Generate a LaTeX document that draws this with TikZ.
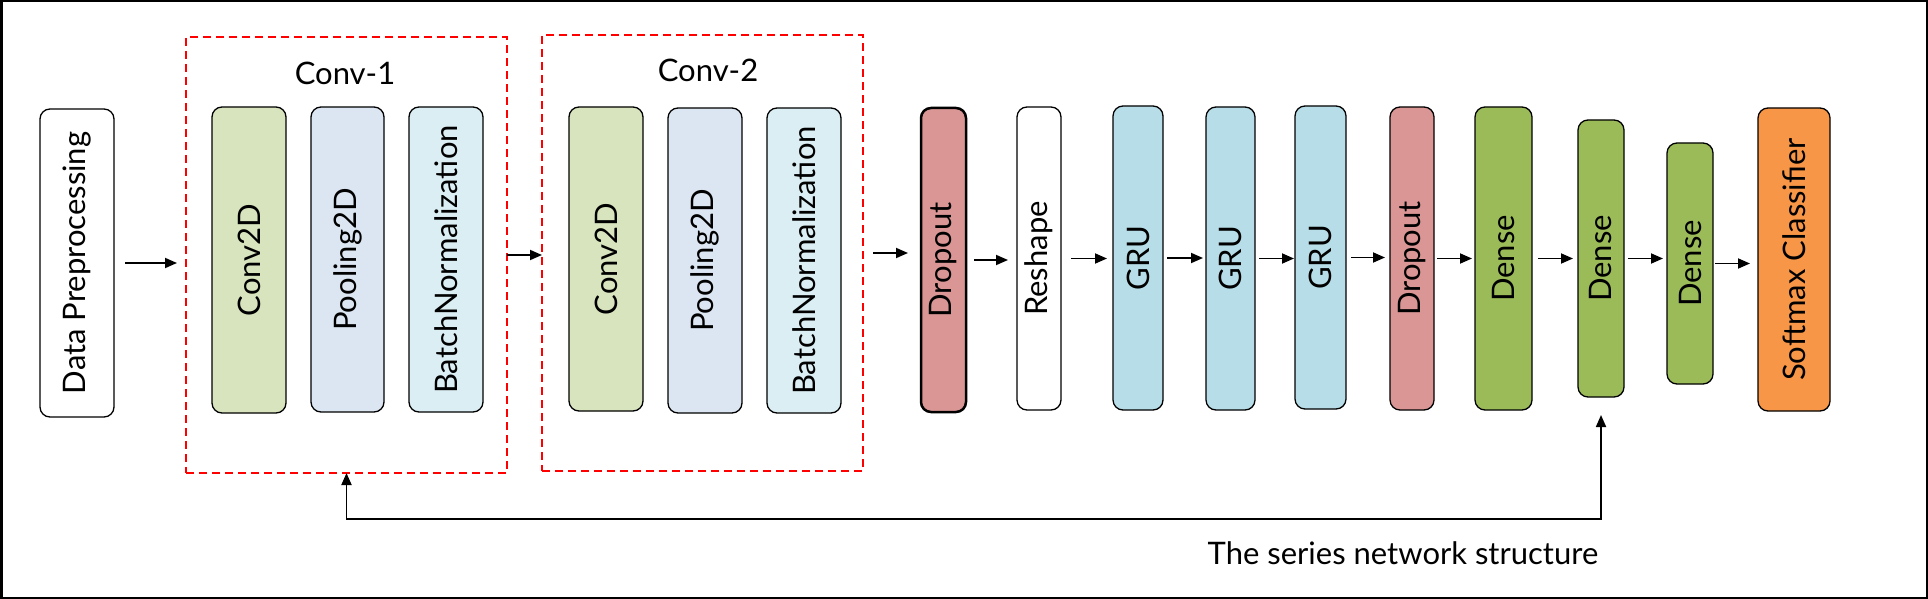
\documentclass[tikz,border=0pt]{standalone}
\usepackage{fontspec}
\setmainfont{Lato}
\usepackage{graphicx}
\usetikzlibrary{arrows.meta}
\definecolor{cgreen}{HTML}{D7E4BD}
\definecolor{cpool}{HTML}{DCE6F2}
\definecolor{cbn}{HTML}{DBEEF4}
\definecolor{cdrop}{HTML}{D99694}
\definecolor{cgru}{HTML}{B7DEE8}
\definecolor{cdense}{HTML}{9BBB59}
\definecolor{csoft}{HTML}{F79646}
\begin{document}
\begin{tikzpicture}[x=1pt,y=-1pt,
  every node/.style={font=\fontsize{31}{37}\selectfont},
  layer/.style={draw=black, line width=1.3pt, rounded corners=10pt, inner sep=0pt, outer sep=0pt},
  group/.style={draw=red, line width=2pt, dash pattern=on 8pt off 5pt, inner sep=0pt, outer sep=0pt},
  arr/.style={line width=1.8pt, -{Triangle[length=12pt,width=10pt]}},
  fb/.style={line width=1.8pt, {Triangle[length=12pt,width=10pt]}-{Triangle[length=12pt,width=10pt]}}]
\useasboundingbox (0,0) rectangle (1928,599);
\draw[line width=2.5pt] (1.25,1.25) rectangle (1926.75,597.75);

\node[layer, minimum width=74, minimum height=308] (dp) at (77,263) {\rotatebox{90}{Data Preprocessing}};

\node[group, minimum width=321, minimum height=436] (c1) at (346.5,255) {};
\node (t1) at (345,73) {Conv-1};
\node[layer, fill=cgreen, minimum width=74, minimum height=306] (c1a) at (249,260) {\rotatebox{90}{Conv2D}};
\node[layer, fill=cpool, minimum width=73, minimum height=305] (c1b) at (347.5,259.5) {\rotatebox{90}{Pooling2D}};
\node[layer, fill=cbn, minimum width=74, minimum height=305] (c1c) at (446,259.5) {\rotatebox{90}{BatchNormalization}};

\node[group, minimum width=321, minimum height=436] (c2) at (702.5,253) {};
\node (t2) at (708,70) {Conv-2};
\node[layer, fill=cgreen, minimum width=74, minimum height=304] (c2a) at (606,259) {\rotatebox{90}{Conv2D}};
\node[layer, fill=cpool, minimum width=74, minimum height=305] (c2b) at (705,260.5) {\rotatebox{90}{Pooling2D}};
\node[layer, fill=cbn, minimum width=74, minimum height=305] (c2c) at (804,260.5) {\rotatebox{90}{BatchNormalization}};

\node[layer, line width=2.5pt, fill=cdrop, minimum width=45, minimum height=304] (do1) at (943.5,260) {\rotatebox{90}{Dropout}};
\node[layer, fill=white, minimum width=44, minimum height=303] (rs) at (1039,258.5) {\rotatebox{90}{Reshape}};
\node[layer, fill=cgru, minimum width=50, minimum height=304] (g1) at (1138,258) {\rotatebox{90}{GRU}};
\node[layer, fill=cgru, minimum width=49, minimum height=303] (g2) at (1230.5,258.5) {\rotatebox{90}{GRU}};
\node[layer, fill=cgru, minimum width=51, minimum height=303] (g3) at (1320.5,257.5) {\rotatebox{90}{GRU}};
\node[layer, fill=cdrop, minimum width=44, minimum height=303] (do2) at (1412,258.5) {\rotatebox{90}{Dropout}};
\node[layer, fill=cdense, minimum width=57, minimum height=303] (d1) at (1503.5,258.5) {\rotatebox{90}{Dense}};
\node[layer, fill=cdense, minimum width=46, minimum height=277] (d2) at (1601,258.5) {\rotatebox{90}{Dense}};
\node[layer, fill=cdense, minimum width=46, minimum height=241] (d3) at (1690,263.5) {\rotatebox{90}{Dense}};
\node[layer, fill=csoft, minimum width=72, minimum height=303] (sm) at (1794,259.5) {\rotatebox{90}{Softmax Classifier}};

\draw[arr, shorten <=11pt, shorten >=9pt] (dp.east) -- (dp.east -| c1.west);
\draw[arr] (c1.east) -- (c1.east -| c2.west);
\draw[arr, shorten <=10pt, shorten >=13pt] (c2.east) -- (c2.east -| do1.west);
\draw[arr, shorten <=8pt, shorten >=9pt] (do1.east) -- (do1.east -| rs.west);
\draw[arr, shorten <=10pt, shorten >=6pt] (rs.east) -- (rs.east -| g1.west);
\draw[arr, shorten <=4pt, shorten >=3pt] (g1.east) -- (g1.east -| g2.west);
\draw[arr, shorten <=4pt, shorten >=1pt] (g2.east) -- (g2.east -| g3.west);
\draw[arr, shorten <=5pt, shorten >=5pt] (g3.east) -- (g3.east -| do2.west);
\draw[arr, shorten <=3pt, shorten >=3pt] (do2.east) -- (do2.east -| d1.west);
\draw[arr, shorten <=6pt, shorten >=5pt] (d1.east) -- (d1.east -| d2.west);
\draw[arr, shorten <=4pt, shorten >=4pt] (d2.east) -- (d2.east -| d3.west);
\draw[arr, shorten <=2pt, shorten >=8pt] (d3.east) -- (d3.east -| sm.west);

\coordinate (fbtip) at ([yshift=-18pt]d2.south);
\draw[fb] (c1.south) -- ++(0,46) -| (fbtip);

\node (cap) at (1403,553) {The series network structure};
\end{tikzpicture}
\end{document}
